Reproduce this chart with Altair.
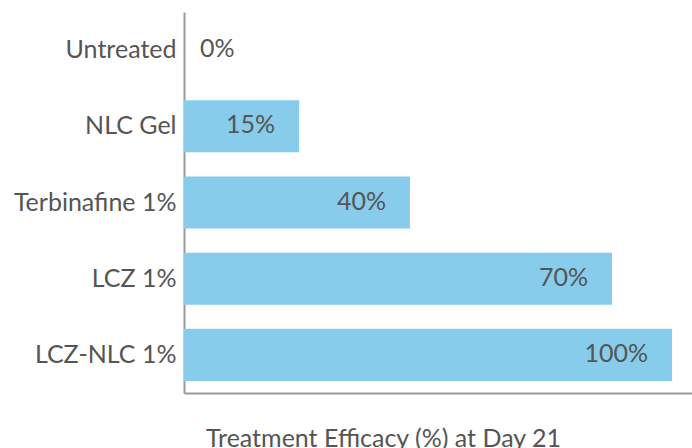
import altair as alt
import pandas as pd

treatments = ["Untreated", "NLC Gel", "Terbinafine 1%", "LCZ 1%", "LCZ-NLC 1%"]
# bar lengths as drawn in the picture, relative to the longest bar (=100)
bar_length = [0, 23.6, 46.3, 87.7, 100]
efficacy_label = ["0%", "15%", "40%", "70%", "100%"]

df = pd.DataFrame({"treatment": treatments, "length": bar_length, "label": efficacy_label})

FONT = "Lato"
TXT = "#555555"
AX = "#999999"

x = alt.X(
    "length:Q",
    scale=alt.Scale(domain=[0, 104.1], nice=False, zero=True),
    axis=alt.Axis(
        title="Treatment Efficacy (%) at Day 21",
        labels=False, ticks=False, grid=False,
        domainColor=AX, domainWidth=2,
        titleFont=FONT, titleFontSize=25, titleFontWeight="normal", titleColor=TXT,
        titleX=199, titleY=53, titleBaseline="alphabetic", titleAlign="center",
    ),
)
y = alt.Y(
    "treatment:N",
    sort=treatments,
    scale=alt.Scale(paddingInner=0.316, paddingOuter=0.158),
    axis=alt.Axis(
        title=None, ticks=False, grid=False, tickSize=0,
        domainColor=AX, domainWidth=2,
        labelFont=FONT, labelFontSize=25, labelColor=TXT, labelPadding=8,
        labelLimit=300,
    ),
)

bars = alt.Chart(df).mark_bar(color="#87CCEA").encode(x=x, y=y)

labels_in = alt.Chart(df).transform_filter("datum.length > 0").mark_text(
    align="right", baseline="middle", dx=-24, dy=-1, font=FONT, fontSize=25, color=TXT
).encode(x="length:Q", y=alt.Y("treatment:N", sort=treatments), text="label:N")

labels_zero = alt.Chart(df).transform_filter("datum.length == 0").mark_text(
    align="left", baseline="middle", dx=16, dy=-1, font=FONT, fontSize=25, color=TXT
).encode(x="length:Q", y=alt.Y("treatment:N", sort=treatments), text="label:N")

chart = (
    alt.layer(bars, labels_in, labels_zero)
    .properties(
        width=508, height=381,
        background="white",
        autosize=alt.AutoSizeParams(type="none"),
        padding={"left": 184, "top": 12, "right": 0, "bottom": 55},
    )
    .configure_view(stroke="transparent", strokeWidth=0)
)

chart.save("out.html", embed_options={"renderer": "svg", "actions": False})
